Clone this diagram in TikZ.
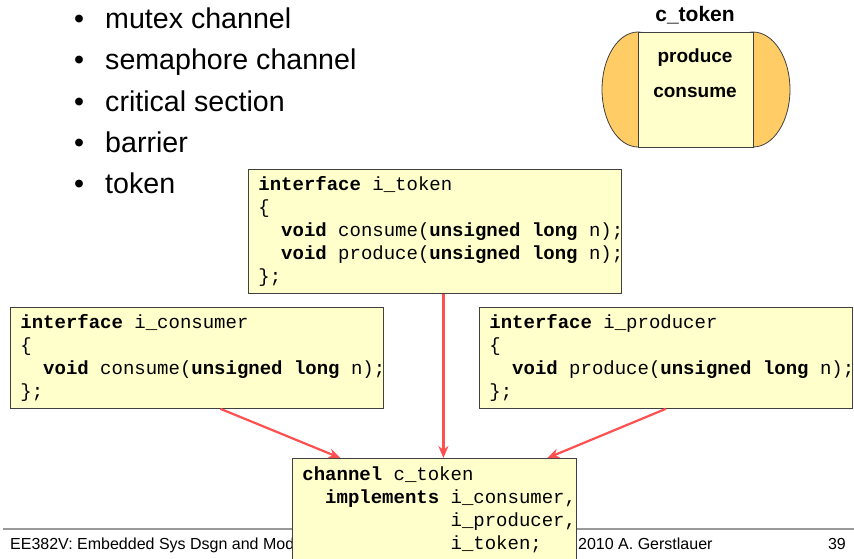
\documentclass[tikz,border=0pt]{standalone}
\usepackage{fontspec}
\setmainfont{Liberation Sans}
\setmonofont[WordSpace={1,0,0}]{Liberation Mono}
\usetikzlibrary{arrows.meta}
\definecolor{note}{HTML}{FFFFCC}
\definecolor{port}{HTML}{FFCC66}
\definecolor{link}{HTML}{FF5050}
\definecolor{edge}{HTML}{404040}
\definecolor{rule}{HTML}{999999}
\tikzset{
  codebox/.style={draw=edge, fill=note, line width=0.8pt, anchor=north west, align=left,
    inner xsep=10pt, inner ysep=4pt, font=\fontsize{19}{23}\selectfont\ttfamily,
    execute at begin node={\spaceskip=0pt\xspaceskip=0pt\relax}},
  listtext/.style={font=\fontsize{28.6}{30}\selectfont, anchor=base west, inner sep=0pt},
  boldlab/.style={font=\fontsize{19}{21}\selectfont\bfseries, anchor=base, inner sep=0pt},
  foot/.style={font=\fontsize{16}{18}\selectfont, inner sep=0pt},
  redarrow/.style={draw=link, line width=2.2pt, -{Stealth[length=12pt,width=10pt]}}
}

\begin{document}
\begin{tikzpicture}[x=1pt, y=-1pt]
    \clip (0,0) rectangle (854,558);

    % Bullet list
    \node[listtext] (b1) at (74,28) {\textbullet\hspace{21pt}mutex channel};
    \node[listtext] (b2) at (74,69.5) {\textbullet\hspace{21pt}semaphore channel};
    \node[listtext] (b3) at (74,111) {\textbullet\hspace{21pt}critical section};
    \node[listtext] (b4) at (74,152) {\textbullet\hspace{21pt}barrier};
    \node[listtext] (b5) at (74,193) {\textbullet\hspace{21pt}token};

    % Channel symbol
    \node[boldlab, font=\fontsize{21}{23}\selectfont\bfseries] (ctitle) at (695,21) {c\_token};
    \draw[fill=port, draw=edge, line width=0.8pt] (638,89.5) ellipse [x radius=36, y radius=57.5];
    \draw[fill=port, draw=edge, line width=0.8pt] (753,89.5) ellipse [x radius=37, y radius=57.5];
    \node[draw=edge, fill=note, line width=0.8pt, minimum width=115pt, minimum height=115pt, inner sep=0pt] (csym) at (695.5,89.5) {};
    \node[boldlab] (cprod) at (695,62) {produce};
    \node[boldlab] (ccons) at (695,97) {consume};

    % Footer
    \draw[rule, line width=2pt] (3,529) -- (854,529);
    \node[foot, anchor=base west] (fleft) at (10,549) {EE382V: Embedded Sys Dsgn and Modeling};
    \node[foot, anchor=base west] (fmid) at (578,549) {2010 A. Gerstlauer};
    \node[foot, anchor=base east] (fpage) at (846,549) {39};

    % Interfaces
    \node[codebox, text width=353pt, minimum height=124pt] (itok) at (248,169)
      {\textbf{interface} i\_token\\
       \{\\
       \mbox{\ \ \textbf{void} consume(\textbf{unsigned long} n);}\\
       \mbox{\ \ \textbf{void} produce(\textbf{unsigned long} n);}\\
       \};};
    \node[codebox, text width=353pt, minimum height=101pt] (icons) at (10,307)
      {\textbf{interface} i\_consumer\\
       \{\\
       \mbox{\ \ \textbf{void} consume(\textbf{unsigned long} n);}\\
       \};};
    \node[codebox, text width=353pt, minimum height=101pt] (iprod) at (479,307)
      {\textbf{interface} i\_producer\\
       \{\\
       \mbox{\ \ \textbf{void} produce(\textbf{unsigned long} n);}\\
       \};};

    % Channel
    \node[codebox, text width=264pt, inner ysep=8pt] (chan) at (292,458)
      {\textbf{channel} c\_token\\
       \mbox{\ \ \textbf{implements} i\_consumer,}\\
       \mbox{\phantom{\ \ \textbf{implements}\ }i\_producer,}\\
       \mbox{\phantom{\ \ \textbf{implements}\ }i\_token;}};

    \draw[redarrow] ([xshift=23.5pt]icons.south) -- ([xshift=-94pt]chan.north);
    \draw[redarrow] ([xshift=8.5pt]itok.south) -- ([xshift=9pt]chan.north);
    \draw[redarrow] (iprod.south) -- ([xshift=113pt]chan.north);
\end{tikzpicture}
\end{document}
